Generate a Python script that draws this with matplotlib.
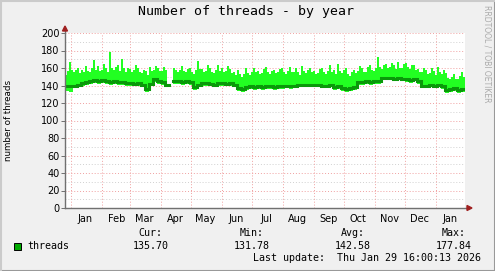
import numpy as np
import matplotlib
matplotlib.use("Agg")
import matplotlib.pyplot as plt
import matplotlib.dates as mdates
from matplotlib.patches import Rectangle, Polygon
from matplotlib.lines import Line2D
from datetime import datetime, timedelta

nan = np.nan
# buckets starting 2024-12-25 16:00
start = datetime(2024, 12, 25, 16, 0)
step_days = 4       # avg / min resolution
max_step_days = 2   # max resolution
avg_vals = [140, 139, 140, 141, 143, 144, 145, 146, 145, 146,
            145, 144, 145, 144, 144, 143, 143, 142, 143, 141,
            136, 142, 147, 145, 144, 141, nan, 145, 145, 144,
            145, 144, 138, 141, 143, 143, 142, 141, 143, 143,
            142, 143, 141, 137, 136, 138, 139, 138, 139, 138,
            139, 139, 138, 139, 139, 140, 139, 140, 141, 141,
            141, 141, 141, 141, 140, 140, 141, 138, 139, 137,
            136, 137, 138, 144, 144, 145, 144, 145, 145, 149,
            149, 149, 148, 149, 148, 147, 146, 148, 145, 140,
            140, 141, 140, 141, 139, 135, 136, 137, 135, 136]
min_vals = [134, 133, 137, 138, 140, 141, 142, 143, 142, 143,
            142, 141, 142, 141, 141, 140, 140, 139, 140, 138,
            133, 139, 144, 142, 141, 138, nan, 142, 142, 141,
            142, 141, 135, 138, 140, 140, 139, 138, 140, 140,
            139, 140, 138, 134, 133, 135, 136, 135, 136, 135,
            136, 136, 135, 136, 136, 137, 136, 137, 138, 138,
            138, 138, 138, 138, 137, 137, 138, 135, 136, 134,
            133, 134, 135, 141, 141, 142, 141, 142, 142, 146,
            146, 146, 145, 146, 145, 144, 143, 145, 142, 137,
            137, 138, 137, 138, 136, 132, 133, 134, 132, 133]
max_vals = [152, 157, 167, 158, 155, 158, 160, 154, 158, 156,
            162, 157, 156, 160, 169, 158, 162, 157, 158, 165,
            160, 156, 178, 160, 158, 161, 163, 157, 170, 160,
            156, 160, 159, 155, 158, 163, 160, 156, 154, 158,
            157, 152, 161, 157, 158, 162, 160, 157, 157, 161,
            158, 155, nan, nan, 160, 158, 156, 158, 162, 157,
            155, 159, 160, 156, 153, 158, 168, 159, 159, 155,
            157, 163, 160, 156, 154, 158, 164, 157, 160, 155,
            157, 162, 159, 154, 156, 152, 158, 153, 150, 153,
            160, 154, 152, 156, 160, 155, 157, 153, 154, 159,
            161, 156, 153, 157, 158, 154, 155, 159, 160, 156,
            153, 157, 161, 155, 156, 160, 156, 152, 162, 157,
            154, 158, 160, 155, 157, 153, 154, 159, 160, 156,
            153, 157, 163, 156, 158, 153, 165, 157, 154, 158,
            160, 153, 151, 155, 158, 154, 157, 162, 160, 156,
            156, 161, 163, 158, 157, 160, 173, 161, 159, 163,
            165, 160, 161, 166, 163, 159, 167, 160, 160, 165,
            166, 161, 159, 164, 163, 158, 159, 155, 155, 160,
            158, 153, 154, 160, 157, 152, 161, 155, 153, 158,
            154, 149, 147, 150, 153, 148, 148, 151, 156, 150]

y_ticks = [0, 20, 40, 60, 80, 100, 120, 140, 160, 180, 200]
legend_heads = ["Cur:", "Min:", "Avg:", "Max:"]
legend_vals = ["135.70", "131.78", "142.58", "177.84"]
series_name = "threads"
title = "Number of threads - by year"
last_update = "Last update:  Thu Jan 29 16:00:13 2026"

n = len(avg_vals)
xs = [start + timedelta(days=step_days * i) for i in range(n + 1)]
avg_e = avg_vals + [avg_vals[-1]]
m = len(max_vals)
xs2 = [start + timedelta(days=max_step_days * i) for i in range(m + 1)]
max_e = max_vals + [max_vals[-1]]
ratio = step_days // max_step_days
min_e = list(np.repeat(min_vals, ratio)) + [min_vals[-1]]
end = start + timedelta(days=400)

W, H = 495, 271
fig = plt.figure(figsize=(W / 100, H / 100), dpi=100)
fig.patch.set_facecolor("#f0f0f0")
ax = fig.add_axes([65 / W, (H - 208) / H, 400 / W, 175 / H])
ax.set_facecolor("white")

ax.fill_between(xs2, min_e, max_e, step="post", color="#22ff22", lw=0)
ax.plot(xs, avg_e, drawstyle="steps-post", color="#0a980a", lw=2.2,
        solid_joinstyle="miter")

ax.set_xlim(start, end)
ax.set_ylim(0, 200)

# grid
for v in range(10, 200, 10):
    if v % 20:
        ax.axhline(v, color="#d0d0d0", lw=0.7, ls=(0, (1, 2)), zorder=0.5)
for v in y_ticks[1:]:
    ax.axhline(v, color="#f0a0a0", lw=0.7, ls=(0, (1, 2)), zorder=0.5)
ax.xaxis.set_major_locator(mdates.MonthLocator())
ax.xaxis.set_minor_locator(mdates.MonthLocator(bymonthday=15))
ax.xaxis.set_major_formatter(plt.NullFormatter())
ax.xaxis.set_minor_formatter(mdates.DateFormatter("%b"))
ax.grid(True, which="major", axis="x", color="#f0a0a0", lw=0.7, ls=(0, (1, 2)))
ax.set_axisbelow(True)
ax.tick_params(axis="x", which="major", length=0)
ax.tick_params(axis="x", which="minor", length=0, labelsize=7, pad=4, colors="#000000")
ax.set_yticks(y_ticks)
ax.tick_params(axis="y", length=3, width=0.7, color="#707070", labelsize=7, pad=1)
for s in ["top", "right"]:
    ax.spines[s].set_visible(False)
for s in ["left", "bottom"]:
    ax.spines[s].set_color("#707070")
    ax.spines[s].set_linewidth(1)
ax.spines["bottom"].set_bounds(mdates.date2num(start), mdates.date2num(end + timedelta(days=3)))
ax.spines["left"].set_bounds(0, 203)

# arrows
fig.add_artist(Polygon(
    [(62.5 / W, (H - 31) / H), (67.5 / W, (H - 31) / H), (65 / W, (H - 26) / H)],
    closed=True, color="#a02020", transform=fig.transFigure))
fig.add_artist(Polygon(
    [(467 / W, (H - 205.5) / H), (467 / W, (H - 210.5) / H), (472 / W, (H - 208) / H)],
    closed=True, color="#a02020", transform=fig.transFigure))

mono = "DejaVu Sans Mono"
fig.text(246 / W, 1 - 12 / H, title, ha="center", va="center", family=mono, fontsize=9.5)
fig.text(9 / W, 1 - 120 / H, "number of threads", rotation=90, ha="center", va="center",
         fontsize=6.3)
fig.text(487 / W, 1 - 5 / H, "RRDTOOL / TOBI OETIKER", rotation=270, ha="center", va="top",
         fontsize=5.5, color="#aaaaaa")

head_x = [150, 252, 353, 454]
val_r = [169, 270, 371, 472]
for hx, hd in zip(head_x, legend_heads):
    fig.text(hx / W, 1 - 233 / H, hd, ha="center", va="center", family=mono, fontsize=7.2)
for vr, vv in zip(val_r, legend_vals):
    fig.text(vr / W, 1 - 246 / H, vv, ha="right", va="center", family=mono, fontsize=7.2)
fig.add_artist(Rectangle((13.5 / W, 1 - 250 / H), 7 / W, 7 / H, facecolor="#00aa00",
                         edgecolor="black", lw=0.7, transform=fig.transFigure))
fig.text(27 / W, 1 - 246 / H, series_name, ha="left", va="center", family=mono, fontsize=7.2)
fig.text(481 / W, 1 - 258 / H, last_update, ha="right", va="center", family=mono, fontsize=7.2)

# border shading
fig.add_artist(Line2D([0, 1], [0.5 / H, 0.5 / H], color="#999999", lw=1.5, transform=fig.transFigure))
fig.add_artist(Line2D([1 - 0.5 / W, 1 - 0.5 / W], [0, 1], color="#999999", lw=1.5, transform=fig.transFigure))
fig.add_artist(Line2D([0, 1], [1 - 0.5 / H, 1 - 0.5 / H], color="#cbcbcb", lw=1.5, transform=fig.transFigure))
fig.add_artist(Line2D([0.5 / W, 0.5 / W], [0, 1], color="#cbcbcb", lw=1.5, transform=fig.transFigure))

fig.savefig("out.png", dpi=100, facecolor=fig.get_facecolor())
